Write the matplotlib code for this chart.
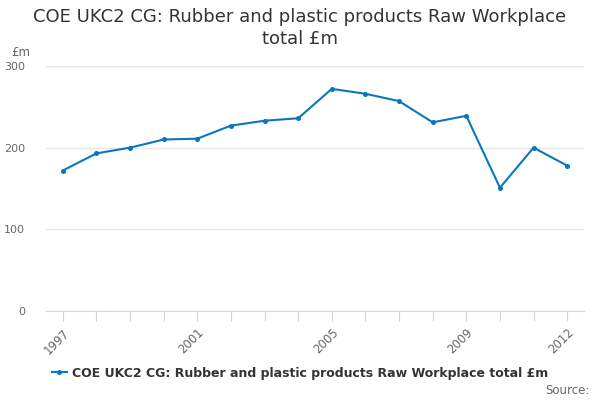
import matplotlib
matplotlib.use("Agg")
import matplotlib.pyplot as plt
from matplotlib.lines import Line2D

years = list(range(1997, 2013))
values = [172, 193, 200, 210, 211, 227, 233, 236, 272, 266, 257, 231, 239, 151, 200, 178]
label_years = [1997, 2001, 2005, 2009, 2012]
yticks = [0, 100, 200, 300]
title = "COE UKC2 CG: Rubber and plastic products Raw Workplace\ntotal £m"
series_name = "COE UKC2 CG: Rubber and plastic products Raw Workplace total £m"

plt.rcParams['font.family'] = ['DejaVu Sans']
fig = plt.figure(figsize=(6, 4), dpi=100)
ax = fig.add_axes([46/600, 1-311/400, 538/600, 245/400])

ax.plot(years, values, color="#0a77bd", lw=1.5, marker="o", ms=2.6, zorder=3)
ax.set_xlim(1996.5, 2012.5)
ax.set_ylim(0, 300)
ax.set_yticks(yticks)
ax.set_yticklabels([str(v) for v in yticks], color="#666666", fontsize=8)
ax.yaxis.grid(True, color="#e6e6e6", lw=1)
ax.set_axisbelow(True)
ax.tick_params(axis="y", length=0, pad=15)
ax.set_xticks(years)
ax.set_xticklabels([str(y) if y in label_years else "" for y in years],
                   rotation=45, ha="right", rotation_mode="anchor",
                   color="#666666", fontsize=8.5)
ax.tick_params(axis="x", length=7, color="#ccd6eb", pad=4)
for s in ["top", "right", "left"]:
    ax.spines[s].set_visible(False)
ax.spines["bottom"].set_color("#ccd6eb")

fig.text(0.5, 1-28/400, title,
         ha="center", va="center", fontsize=13, color="#333333", linespacing=1.25)
fig.text(11/600, 1-53/400, "£m", fontsize=8.5, color="#666666", va="center")

h = Line2D([0], [0], color="#0a77bd", lw=1.5, marker="o", ms=2.6)
leg = fig.legend([h], [series_name], loc="center", bbox_to_anchor=(0.5, 1-373/400),
                 frameon=False, fontsize=9, handlelength=1.2, handletextpad=0.4)
for t in leg.get_texts():
    t.set_fontweight("bold")
    t.set_color("#333333")
fig.text(590/600, 1-390/400, "Source:", ha="right", va="center", fontsize=8.5, color="#666666")

fig.savefig("out.png", dpi=100)
